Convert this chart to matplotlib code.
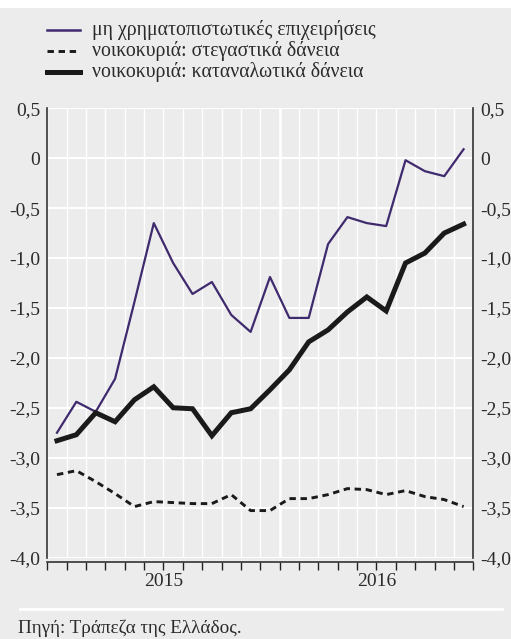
import numpy as np
import matplotlib
matplotlib.use("Agg")
from matplotlib import pyplot as plt
from matplotlib.lines import Line2D
from matplotlib.transforms import blended_transform_factory

# monthly observations, Jan 2015 - Oct 2016
months = np.arange(22)
nfc = [-2.75, -2.44, -2.54, -2.21, -1.44, -0.65, -1.05, -1.36, -1.24, -1.57, -1.74,
       -1.19, -1.60, -1.60, -0.86, -0.59, -0.65, -0.68, -0.02, -0.13, -0.18, 0.09]
housing = [-3.17, -3.13, -3.24, -3.36, -3.49, -3.44, -3.45, -3.46, -3.46, -3.37, -3.53,
           -3.53, -3.41, -3.41, -3.37, -3.31, -3.32, -3.37, -3.33, -3.39, -3.42, -3.49]
consumer = [-2.83, -2.77, -2.55, -2.64, -2.42, -2.29, -2.50, -2.51, -2.78, -2.55, -2.51,
            -2.32, -2.12, -1.84, -1.72, -1.54, -1.39, -1.53, -1.05, -0.95, -0.75, -0.66]

series_labels = ["μη χρηματοπιστωτικές επιχειρήσεις",
                 "νοικοκυριά: στεγαστικά δάνεια",
                 "νοικοκυριά: καταναλωτικά δάνεια"]
years = ["2015", "2016"]
year_centers = [5.5, 16.5]
yticks = [0.5, 0, -0.5, -1.0, -1.5, -2.0, -2.5, -3.0, -3.5, -4.0]
ytick_labels = ["0,5", "0", "-0,5", "-1,0", "-1,5", "-2,0", "-2,5", "-3,0", "-3,5", "-4,0"]
source = "Πηγή: Τράπεζα της Ελλάδος."

bg = "#ececec"
purple = "#3f2a6e"
txt = "#2a2a2a"
plt.rcParams["font.family"] = ["Liberation Serif", "DejaVu Serif"]

W, H = 511, 639
fig = plt.figure(figsize=(W / 100, H / 100), dpi=100, facecolor=bg)
ax = fig.add_axes([47.3 / W, 1 - 557.5 / H, 426 / W, (557.5 - 108.3) / H])
ax.set_facecolor(bg)

# white strip at the very top
fig.patches.append(plt.Rectangle((0, 1 - 8 / H), 1, 8 / H, transform=fig.transFigure,
                                 facecolor="white", edgecolor="none"))

bounds = np.arange(-0.5, 22, 1.0)
for b in bounds:
    lw = 2.0 if b == 11.5 else 1.0
    ax.axvline(b, color="white", lw=lw, zorder=1)
for y in yticks:
    ax.axhline(y, color="white", lw=1.5, zorder=1)

ax.plot(months, nfc, color=purple, lw=1.6, zorder=3)
ax.plot(months, housing, color="#1a1a1a", lw=2.1, ls=(0, (2.2, 1.6)), zorder=3)
ax.plot(months, consumer, color="#1a1a1a", lw=3.6, zorder=4, solid_joinstyle="miter")

ax.set_xlim(-0.5, 21.5)
ax.set_ylim(-4.0, 0.5)
ax.set_yticks(yticks)
ax.set_yticklabels(ytick_labels)
ax.tick_params(axis="y", length=0, labelsize=14, colors=txt, pad=5,
               labelleft=True, labelright=True)

ax.set_xticks(bounds)
ax.set_xticklabels([])
ax.tick_params(axis="x", length=6, width=1, color="#222222", direction="out")
for t, b in zip(ax.xaxis.get_major_ticks(), bounds):
    if b in (11.5, 21.5):
        t.tick1line.set_markersize(12)

ax.spines["top"].set_visible(False)
ax.spines["bottom"].set_position(("outward", 3))
for s in ["left", "right", "bottom"]:
    ax.spines[s].set_color("#333333")
    ax.spines[s].set_linewidth(1.2)

trans = blended_transform_factory(ax.transData, fig.transFigure)
for yr, xc in zip(years, year_centers):
    ax.text(xc, 1 - 582 / H, yr, transform=trans, ha="center", va="center",
            fontsize=14, color=txt)

# legend drawn by hand in figure pixels
styles = [dict(color=purple, lw=1.8),
          dict(color="#1a1a1a", lw=2.1, ls=(0, (2.2, 1.6))),
          dict(color="#1a1a1a", lw=3.6)]
for i, (lab, st) in enumerate(zip(series_labels, styles)):
    yp = 1 - (30 + 21 * i) / H
    fig.add_artist(Line2D([47 / W, 80 / W], [yp, yp], transform=fig.transFigure, **st))
    fig.text(92 / W, yp, lab, ha="left", va="center", fontsize=14.2, color=txt)

fig.add_artist(Line2D([20 / W, 502 / W], [1 - 609 / H, 1 - 609 / H],
                      transform=fig.transFigure, color="white", lw=2))
fig.text(18 / W, 1 - 628 / H, source, ha="left", va="center", fontsize=13.8, color=txt)

fig.savefig("out.png", dpi=100, facecolor=bg)
